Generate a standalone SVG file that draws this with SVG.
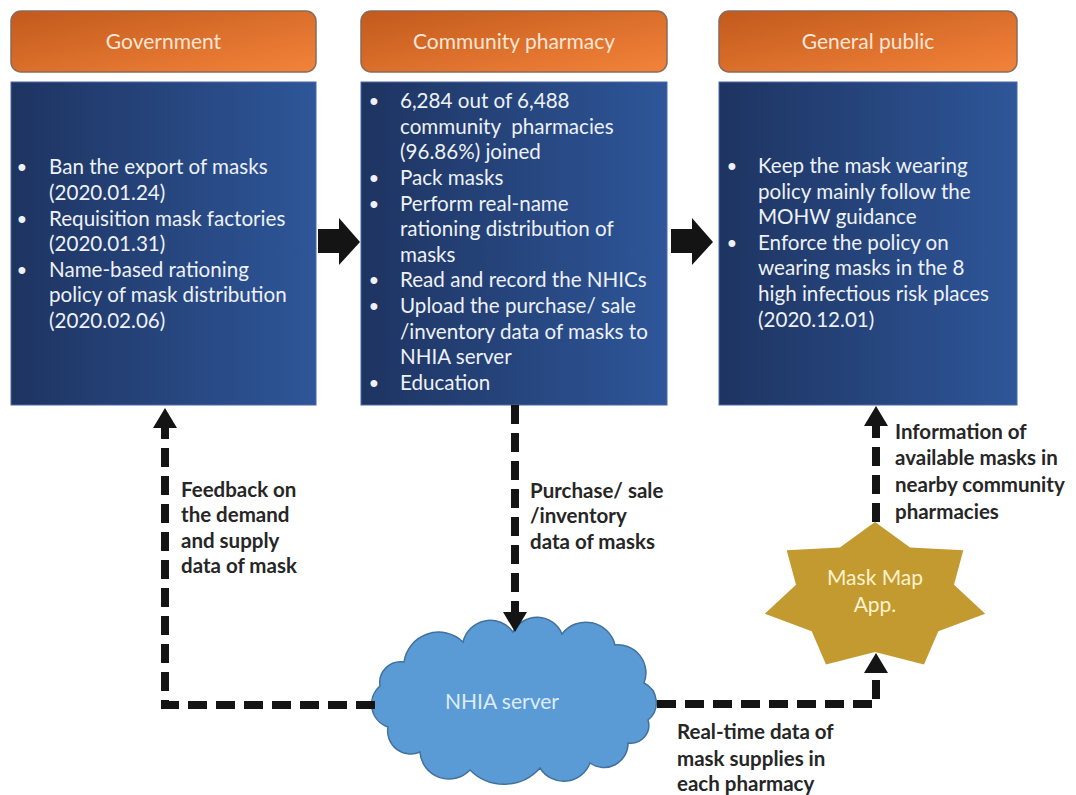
<svg xmlns="http://www.w3.org/2000/svg" width="1076" height="795" viewBox="0 0 1076 795">
<style>
  .hdr { stroke: #8a6a58; stroke-width: 1.5; }
  .hdrtxt { font-family: Lato, "Open Sans", "Liberation Sans", sans-serif; font-size: 21px; fill: #fbe5d6; text-anchor: middle; }
  .body { stroke: #4a68a3; stroke-width: 1; }
  .btxt { font-family: Lato, "Open Sans", "Liberation Sans", sans-serif; font-size: 20.6px; fill: #eef1f7; }
  .bul { font-family: "Liberation Sans", sans-serif; font-size: 25px; fill: #eef1f7; text-anchor: middle; }
  .lbl { font-family: Lato, "Open Sans", "Liberation Sans", sans-serif; font-size: 20.5px; font-weight: bold; fill: #262626; }
  .dash { fill: none; stroke: #141414; stroke-width: 8; stroke-dasharray: 19 9; }
  .arrow { fill: #141414; }
  .cloudtxt { font-family: Lato, "Open Sans", "Liberation Sans", sans-serif; font-size: 21px; fill: #deebf7; text-anchor: middle; }
  .startxt { font-family: Lato, "Open Sans", "Liberation Sans", sans-serif; font-size: 21px; fill: #fff2cc; text-anchor: middle; }
</style>
<defs>
  <linearGradient id="gOrange" x1="0" y1="0" x2="1" y2="1">
    <stop offset="0" stop-color="#c25a1c"/>
    <stop offset="1" stop-color="#f3833a"/>
  </linearGradient>
  <linearGradient id="gBlue" x1="0" y1="0" x2="1" y2="0">
    <stop offset="0" stop-color="#1e3461"/>
    <stop offset="1" stop-color="#2e5699"/>
  </linearGradient>
  <marker id="ah" viewBox="0 0 20 24" refX="0" refY="12" markerWidth="20" markerHeight="24" markerUnits="userSpaceOnUse" orient="auto">
    <path d="M0,0 L20,12 L0,24 Z" class="arrow"/>
  </marker>
</defs>
<rect width="1076" height="795" fill="#ffffff"/>

<g id="government">
  <rect class="hdr" x="11" y="11" width="305" height="61" rx="10" fill="url(#gOrange)"/>
  <text class="hdrtxt" x="163.5" y="49">Government</text>
  <rect class="body" x="11" y="82" width="305" height="323" fill="url(#gBlue)"/>
  <text class="bul" x="22" y="176">•</text>
  <text class="bul" x="22" y="228">•</text>
  <text class="bul" x="22" y="279">•</text>
  <text class="btxt" x="49" y="174">Ban the export of masks</text>
  <text class="btxt" x="49" y="200">(2020.01.24)</text>
  <text class="btxt" x="49" y="226">Requisition mask factories</text>
  <text class="btxt" x="49" y="251">(2020.01.31)</text>
  <text class="btxt" x="49" y="277">Name-based rationing</text>
  <text class="btxt" x="49" y="302">policy of mask distribution</text>
  <text class="btxt" x="49" y="328">(2020.02.06)</text>
</g>

<g id="community-pharmacy">
  <rect class="hdr" x="361" y="11" width="306" height="61" rx="10" fill="url(#gOrange)"/>
  <text class="hdrtxt" x="514" y="49">Community pharmacy</text>
  <rect class="body" x="361" y="82" width="306" height="323" fill="url(#gBlue)"/>
  <text class="bul" x="374" y="110">•</text>
  <text class="bul" x="374" y="187">•</text>
  <text class="bul" x="374" y="213">•</text>
  <text class="bul" x="374" y="289">•</text>
  <text class="bul" x="374" y="315">•</text>
  <text class="bul" x="374" y="392">•</text>
  <text class="btxt" x="400" y="108">6,284 out of 6,488</text>
  <text class="btxt" x="400" y="134" xml:space="preserve">community  pharmacies</text>
  <text class="btxt" x="400" y="159">(96.86%) joined</text>
  <text class="btxt" x="400" y="185">Pack masks</text>
  <text class="btxt" x="400" y="211">Perform real-name</text>
  <text class="btxt" x="400" y="236">rationing distribution of</text>
  <text class="btxt" x="400" y="262">masks</text>
  <text class="btxt" x="400" y="287">Read and record the NHICs</text>
  <text class="btxt" x="400" y="313">Upload the purchase/ sale</text>
  <text class="btxt" x="400" y="339">/inventory data of masks to</text>
  <text class="btxt" x="400" y="364">NHIA server</text>
  <text class="btxt" x="400" y="390">Education</text>
</g>

<g id="general-public">
  <rect class="hdr" x="719" y="11" width="298" height="61" rx="10" fill="url(#gOrange)"/>
  <text class="hdrtxt" x="868" y="49">General public</text>
  <rect class="body" x="719" y="82" width="298" height="323" fill="url(#gBlue)"/>
  <text class="bul" x="732" y="175">•</text>
  <text class="bul" x="732" y="252">•</text>
  <text class="btxt" x="758" y="173">Keep the mask wearing</text>
  <text class="btxt" x="758" y="199">policy mainly follow the</text>
  <text class="btxt" x="758" y="224">MOHW guidance</text>
  <text class="btxt" x="758" y="250">Enforce the policy on</text>
  <text class="btxt" x="758" y="275">wearing masks in the 8</text>
  <text class="btxt" x="758" y="301">high infectious risk places</text>
  <text class="btxt" x="758" y="327">(2020.12.01)</text>
</g>

<g id="nhia-server">
  <path d="M380,686 A21,21 0 0 1 404,662 A35,35 0 0 1 463,642 A28,28 0 0 1 513,632 A27,27 0 0 1 562,634 A30,30 0 0 1 615,645 A28,28 0 0 1 644,683 A22,22 0 0 1 648,720 A18,18 0 0 1 628,743 A24,24 0 0 1 590,763 A28,28 0 0 1 540,768 A48,48 0 0 1 470,770 A29,29 0 0 1 420,752 A23,23 0 0 1 388,727 A24,24 0 0 1 380,686 Z" fill="#5b9bd5" stroke="#41719c" stroke-width="1.5"/>
  <text class="cloudtxt" x="502" y="709">NHIA server</text>
</g>

<g id="mask-map-app">
  <polygon points="875,522 910.1,547.4 963.3,550.2 954,584.8 985.2,613.7 938.3,631.3 924,664.6 875,652 826,664.6 811.7,631.3 764.8,613.7 796,584.8 786.7,550.2 839.9,547.4" fill="#c29a30"/>
  <text class="startxt" x="875" y="585">Mask Map</text>
  <text class="startxt" x="875" y="612">App.</text>
</g>

<g id="connectors">
  <polygon class="arrow" points="318,229 339,229 339,218 360,242 339,265 339,253 318,253"/>
  <polygon class="arrow" points="671,229 692,229 692,218 713,242 692,265 692,253 671,253"/>
  <path class="dash" d="M375,705 L165,705 L165,428" marker-end="url(#ah)"/>
  <path class="dash" d="M515,405 L515,612" marker-end="url(#ah)"/>
  <path class="dash" d="M657,704 L876,704 L876,673" marker-end="url(#ah)"/>
  <path class="dash" d="M876,522 L876,426" marker-end="url(#ah)"/>
  <text class="lbl" x="181" y="497">Feedback on</text>
  <text class="lbl" x="181" y="522">the demand</text>
  <text class="lbl" x="181" y="548">and supply</text>
  <text class="lbl" x="181" y="573">data of mask</text>
  <text class="lbl" x="530" y="498">Purchase/ sale</text>
  <text class="lbl" x="530" y="523">/inventory</text>
  <text class="lbl" x="530" y="549">data of masks</text>
  <text class="lbl" x="895" y="439">Information of</text>
  <text class="lbl" x="895" y="465">available masks in</text>
  <text class="lbl" x="895" y="492">nearby community</text>
  <text class="lbl" x="895" y="519">pharmacies</text>
  <text class="lbl" x="677" y="739">Real-time data of</text>
  <text class="lbl" x="677" y="766">mask supplies in</text>
  <text class="lbl" x="677" y="791">each pharmacy</text>
</g>
</svg>
